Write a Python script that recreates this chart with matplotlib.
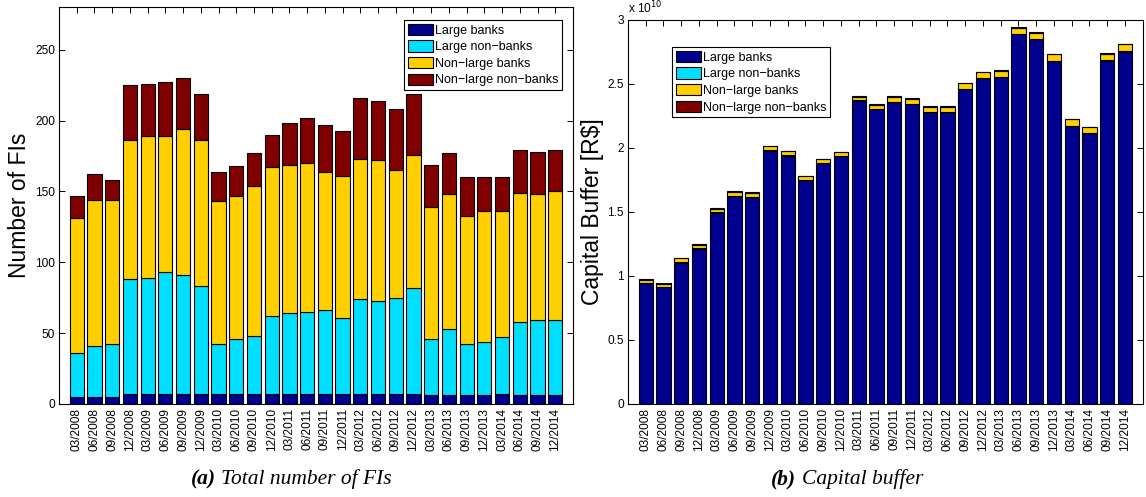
import matplotlib
matplotlib.use("Agg")
import matplotlib.pyplot as plt
from matplotlib.ticker import FuncFormatter, FixedLocator
import numpy as np

# ---------------- data ----------------
quarters = ["03/2008", "06/2008", "09/2008", "12/2008", "03/2009", "06/2009", "09/2009", "12/2009",
            "03/2010", "06/2010", "09/2010", "12/2010", "03/2011", "06/2011", "09/2011", "12/2011",
            "03/2012", "06/2012", "09/2012", "12/2012", "03/2013", "06/2013", "09/2013", "12/2013",
            "03/2014", "06/2014", "09/2014", "12/2014"]
series_names = ["Large banks", "Large non\u2212banks", "Non\u2212large banks", "Non\u2212large non\u2212banks"]

# (a) number of FIs per group
n_large_banks = [5, 5, 5, 7, 7, 7, 7, 7, 7, 7, 7, 7, 7, 7, 7, 7, 7, 7, 7, 7, 6, 6, 6, 6, 7, 6, 6, 6]
n_large_nonbanks = [31, 36, 37, 81, 82, 86, 84, 76, 35, 39, 41, 55, 57, 58, 59, 54, 67, 66, 68, 75,
                    40, 47, 36, 38, 40, 52, 53, 53]
n_nonlarge_banks = [95, 103, 102, 98, 100, 96, 103, 103, 101, 101, 106, 105, 105, 105, 98, 100, 99, 99,
                    90, 94, 93, 95, 91, 92, 89, 91, 89, 91]
n_nonlarge_nonbanks = [16, 18, 14, 39, 37, 38, 36, 33, 21, 21, 23, 23, 29, 32, 33, 32, 43, 42, 43, 43,
                       30, 29, 27, 24, 24, 30, 30, 29]

# (b) capital buffer per group, in units of 1e10 R$
cb_large_banks = [0.943, 0.911, 1.104, 1.214, 1.495, 1.625, 1.617, 1.979, 1.940, 1.747, 1.883, 1.935,
                  2.370, 2.305, 2.357, 2.341, 2.279, 2.279, 2.458, 2.542, 2.555, 2.891, 2.852, 2.680,
                  2.172, 2.117, 2.682, 2.753]
cb_large_nonbanks = [0.002] * 28
cb_nonlarge_banks = [0.026, 0.027, 0.032, 0.028, 0.029, 0.031, 0.032, 0.032, 0.032, 0.029, 0.026, 0.029,
                     0.029, 0.031, 0.042, 0.042, 0.042, 0.042, 0.047, 0.047, 0.047, 0.047, 0.047, 0.049,
                     0.050, 0.042, 0.053, 0.057]
cb_nonlarge_nonbanks = [0.003] * 28
cb_scale = 1e10

colors = ["#00008F", "#00DFFF", "#FFCF00", "#800000"]

# ---------------- figure ----------------
W, H = 1146, 497
fig = plt.figure(figsize=(W / 100, H / 100), dpi=100)
sans = "Liberation Sans"
serif = "Liberation Serif"
tick_fs = 8.6
leg_fs = 9.0


def px_axes(x0, x1, ytop, ybot):
    return fig.add_axes([x0 / W, 1 - ybot / H, (x1 - x0) / W, (ybot - ytop) / H])


ax1 = px_axes(59, 573, 7.3, 404)
ax2 = px_axes(628, 1142.7, 20, 404)

x = np.arange(1, len(quarters) + 1)


def stacked(ax, groups):
    bottom = np.zeros(len(x))
    for vals, c, name in zip(groups, colors, series_names):
        v = np.asarray(vals, dtype=float)
        ax.bar(x, v, width=0.8, bottom=bottom, color=c, edgecolor="black",
               linewidth=0.8, label=name, zorder=2)
        bottom = bottom + v


stacked(ax1, [n_large_banks, n_large_nonbanks, n_nonlarge_banks, n_nonlarge_nonbanks])
stacked(ax2, [np.asarray(cb_large_banks) * cb_scale, np.asarray(cb_large_nonbanks) * cb_scale,
              np.asarray(cb_nonlarge_banks) * cb_scale, np.asarray(cb_nonlarge_nonbanks) * cb_scale])

for ax in (ax1, ax2):
    ax.set_xlim(0, len(quarters) + 1)
    ax.set_xticks(x)
    ax.set_xticklabels(quarters, rotation=90, fontsize=tick_fs, family=sans)
    ax.tick_params(axis="both", direction="in", length=4, width=0.7, top=True, right=True,
                   labelsize=tick_fs, pad=3)
    for s in ax.spines.values():
        s.set_linewidth(0.8)

ax1.set_ylim(0, 280)
ax1.set_yticks([0, 50, 100, 150, 200, 250])
ax1.set_yticklabels(["0", "50", "100", "150", "200", "250"], family=sans, fontsize=tick_fs)

ax2.set_ylim(0, 3e10)
ax2.yaxis.set_major_locator(FixedLocator([0, 0.5e10, 1e10, 1.5e10, 2e10, 2.5e10, 3e10]))
ax2.yaxis.set_major_formatter(FuncFormatter(lambda v, p: f"{v / 1e10:g}"))
for lab in ax2.get_yticklabels():
    lab.set_family(sans)
ax2.text(0.0, 1.01, r"x 10$^{10}$", transform=ax2.transAxes, ha="left", va="bottom",
         fontsize=tick_fs, family=sans)

# y labels
ax1.set_ylabel("Number of FIs", fontsize=16.5, family=sans)
ax2.set_ylabel("Capital Buffer [R$]", fontsize=16.5, family=sans)
ax1.yaxis.label.set_verticalalignment("center")
ax2.yaxis.label.set_verticalalignment("center")
ax1.yaxis.set_label_coords((20 - 59) / 514, 0.5)
ax2.yaxis.set_label_coords((593 - 628) / 514.7, 0.5)

# legends
leg_kw = dict(frameon=True, fancybox=False, framealpha=1, edgecolor="black",
              handlelength=2.0, handleheight=1.0, handletextpad=0.15, labelspacing=0.3,
              borderpad=0.3, borderaxespad=0, prop={"family": sans, "size": leg_fs})
l1 = ax1.legend(loc="upper right", bbox_to_anchor=(562 / W, 1 - 20 / H),
                bbox_transform=fig.transFigure, **leg_kw)
l2 = ax2.legend(loc="upper left", bbox_to_anchor=(672 / W, 1 - 47 / H),
                bbox_transform=fig.transFigure, **leg_kw)
for l in (l1, l2):
    l.get_frame().set_linewidth(0.8)
    l.set_zorder(5)

# captions with bold-italic letter and italic text
fig.canvas.draw()
r = fig.canvas.get_renderer()
cap_fs = 15.5


def caption(center_px, letter, rest, base_px):
    t1 = fig.text(0, 0, letter, family=serif, style="italic", weight="bold", fontsize=cap_fs,
                  ha="left", va="baseline")
    t2 = fig.text(0, 0, rest, family=serif, style="italic", fontsize=cap_fs, ha="left", va="baseline")
    w1 = t1.get_window_extent(r).width
    w2 = t2.get_window_extent(r).width
    gap = cap_fs * 100 / 72 * 0.25
    x0 = center_px - (w1 + gap + w2) / 2
    y = 1 - base_px / H
    t1.set_position((x0 / W, y))
    t2.set_position(((x0 + w1 + gap) / W, y))


caption(291, "(a)", "Total number of FIs", 484)
caption(847, "(b)", "Capital buffer", 484)

fig.savefig("out.png", dpi=100)
